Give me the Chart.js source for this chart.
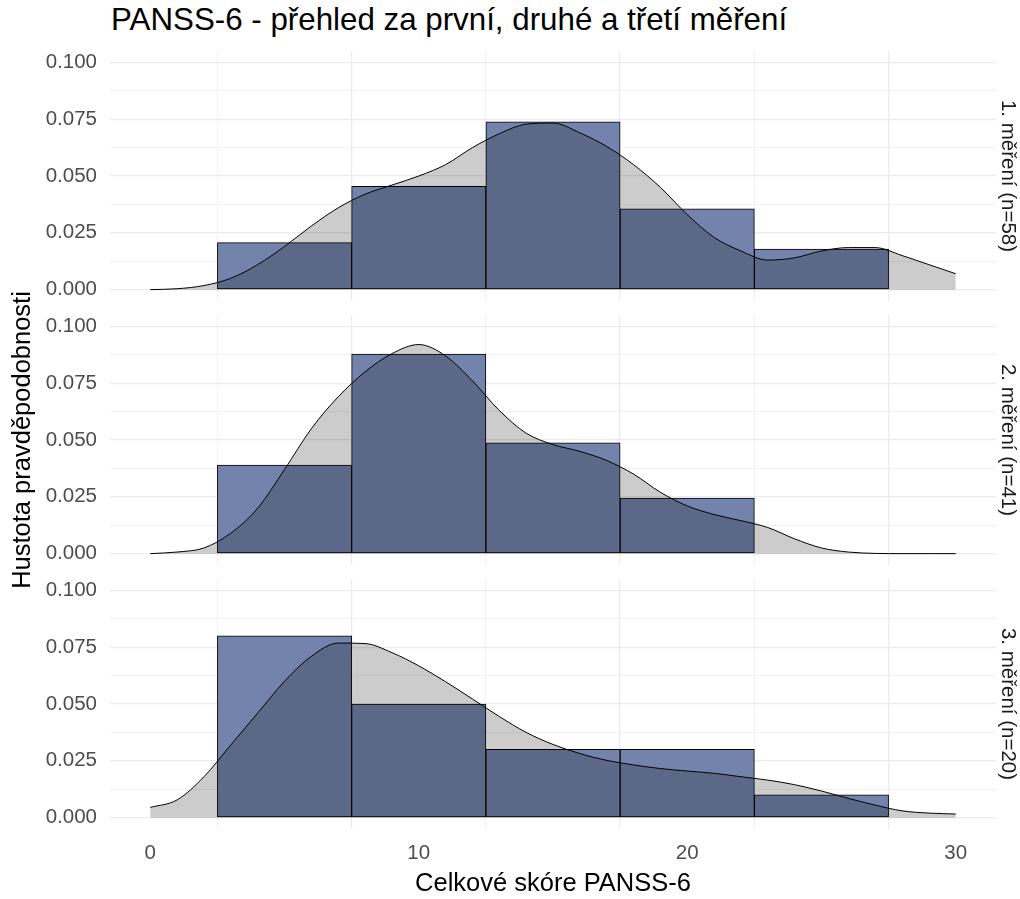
<!DOCTYPE html>
<html>
<head>
<meta charset="utf-8">
<script src="https://cdn.jsdelivr.net/npm/chart.js@4.4.0/dist/chart.umd.min.js"></script>
<style>
  body { margin: 0; background: #fff; width: 1020px; height: 899px; position: relative; overflow: hidden;
         font-family: "Liberation Sans", Arial, sans-serif; }
  #title { position: absolute; left: 111px; top: 2px; font-size: 31.3px; line-height: 36px; color: #000; white-space: nowrap; }
  .panel { position: absolute; left: 0; width: 1020px; }
</style>
</head>
<body>
<div id="title">PANSS-6 - přehled za první, druhé a třetí měření</div>
<div class="panel" style="top:39px;height:274px"><canvas id="p1"></canvas></div>
<div class="panel" style="top:567px;height:332px"><canvas id="p3"></canvas></div>
<div class="panel" style="top:270px;height:340px"><canvas id="p2"></canvas></div>
<script>
// histogram bins (width 5) and their densities
const binCenters = [5, 10, 15, 20, 25];
const hist1 = [0.0207, 0.0455, 0.0738, 0.0355, 0.0178];
const hist2 = [0.0390, 0.0878, 0.0488, 0.0244, null];
const hist3 = [0.080, 0.050, 0.030, 0.030, 0.010];

// kernel density at whole scores
const densX = [0, 1, 2, 3, 4, 5, 6, 7, 8, 9, 10, 11, 12, 13, 14, 15,
               16, 17, 18, 19, 20, 21, 22, 23, 24, 25, 26, 27, 28, 29, 30];
const dens1 = [0.0000, 0.0004, 0.0018, 0.0050, 0.0110, 0.0190, 0.0280, 0.0360, 0.0420, 0.0460,
               0.0500, 0.0550, 0.0625, 0.0686, 0.0728, 0.0733, 0.0690, 0.0630, 0.0550, 0.0450,
               0.0330, 0.0230, 0.0170, 0.0130, 0.0140, 0.0170, 0.0185, 0.0185, 0.0150, 0.0110, 0.0070];
const dens2 = [0.0000, 0.0007, 0.0025, 0.0090, 0.0200, 0.0370, 0.0550, 0.0690, 0.0800, 0.0880,
               0.0920, 0.0870, 0.0760, 0.0630, 0.0530, 0.0480, 0.0450, 0.0410, 0.0350, 0.0270,
               0.0210, 0.0172, 0.0145, 0.0115, 0.0065, 0.0025, 0.0007, 0.0001, 0.0000, 0.0000, 0.0000];
const dens3 = [0.0045, 0.0078, 0.0180, 0.0320, 0.0460, 0.0600, 0.0710, 0.0768, 0.0766, 0.0726,
               0.0668, 0.0598, 0.0522, 0.0445, 0.0375, 0.0322, 0.0282, 0.0252, 0.0232, 0.0216,
               0.0205, 0.0195, 0.0180, 0.0165, 0.0145, 0.0117, 0.0085, 0.0055, 0.0030, 0.0020, 0.0016];

const strips = ['1. měření (n=58)', '2. měření (n=41)', '3. měření (n=20)'];

// axis ticks
const xGrid = [0, 5, 10, 15, 20, 25, 30];
const xMajor = [0, 10, 20, 30];
const yGrid = [0, 0.0125, 0.025, 0.0375, 0.05, 0.0625, 0.075, 0.0875, 0.1];
const yMajor = [0, 0.025, 0.05, 0.075, 0.1];

Chart.defaults.font.family = '"Liberation Sans", Arial, sans-serif';
Chart.defaults.animation = false;

const gridColor = '#ebebeb';

// padTop/padBottom place the 250px plot panel inside its canvas
function makePanel(id, hist, dens, strip, isBottom, yTitle, padTop, padBottom) {
  new Chart(document.getElementById(id), {
    type: 'bar',
    data: {
      datasets: [{
        type: 'line',
        order: 0,
        data: densX.map((x, i) => ({ x: x, y: dens[i] })),
        borderColor: '#000',
        borderWidth: 1,
        backgroundColor: 'rgba(0,0,0,0.2)',
        fill: 'origin',
        pointRadius: 0,
        cubicInterpolationMode: 'monotone'
      }, {
        type: 'bar',
        order: 1,
        data: binCenters.map((x, i) => ({ x: x, y: hist[i] })),
        backgroundColor: 'rgb(116,131,171)',
        borderColor: '#000',
        borderWidth: 1,
        borderSkipped: false,
        barPercentage: 1,
        categoryPercentage: 1
      }]
    },
    options: {
      responsive: true,
      maintainAspectRatio: false,
      layout: { padding: { top: padTop, bottom: padBottom, left: 0, right: 0 } },
      plugins: { legend: { display: false }, tooltip: { enabled: false } },
      scales: {
        x: {
          type: 'linear',
          min: -1.5,
          max: 31.5,
          offset: false,
          border: { display: false },
          grid: {
            color: gridColor,
            lineWidth: c => (c.tick && xMajor.includes(c.tick.value)) ? 1.3 : 0.7,
            drawTicks: false
          },
          ticks: {
            display: isBottom,
            autoSkip: false,
            maxRotation: 0,
            padding: 12,
            color: '#4d4d4d',
            font: { size: 20.5 },
            callback: v => xMajor.includes(v) ? String(v) : ''
          },
          title: {
            display: isBottom,
            text: 'Celkové skóre PANSS-6',
            color: '#000',
            font: { size: 25.5 },
            padding: { top: 0, bottom: 0 }
          },
          afterBuildTicks: s => { s.ticks = xGrid.map(v => ({ value: v })); },
          afterFit: s => { s.height = isBottom ? 70 : 0; s.paddingLeft = 0; s.paddingRight = 0; }
        },
        y: {
          min: -0.005,
          max: 0.105,
          border: { display: false },
          grid: {
            color: gridColor,
            lineWidth: c => (c.tick && yMajor.includes(c.tick.value)) ? 1.3 : 0.7,
            drawTicks: false
          },
          ticks: {
            padding: 13,
            color: '#4d4d4d',
            font: { size: 20.5 },
            callback: v => yMajor.includes(v) ? v.toFixed(3) : ''
          },
          title: {
            display: yTitle,
            text: 'Hustota pravděpodobnosti',
            color: '#000',
            font: { size: 25.5 },
            padding: { top: 8, bottom: 0 }
          },
          afterBuildTicks: s => { s.ticks = yGrid.map(v => ({ value: v })); },
          afterFit: s => { s.width = 110; s.paddingTop = 0; s.paddingBottom = 0; }
        },
        strip: {
          type: 'linear',
          position: 'right',
          border: { display: false },
          grid: { display: false },
          ticks: { display: false },
          title: {
            display: true,
            text: strip,
            color: '#1a1a1a',
            font: { size: 20.5 },
            padding: { top: 0, bottom: 0 }
          },
          afterFit: s => { s.width = 24; s.paddingTop = 0; s.paddingBottom = 0; }
        }
      }
    }
  });
}

makePanel('p1', hist1, dens1, strips[0], false, false, 12, 12);
makePanel('p2', hist2, dens2, strips[1], false, true, 45, 45);
makePanel('p3', hist3, dens3, strips[2], true, false, 12, 0);
</script>
</body>
</html>
